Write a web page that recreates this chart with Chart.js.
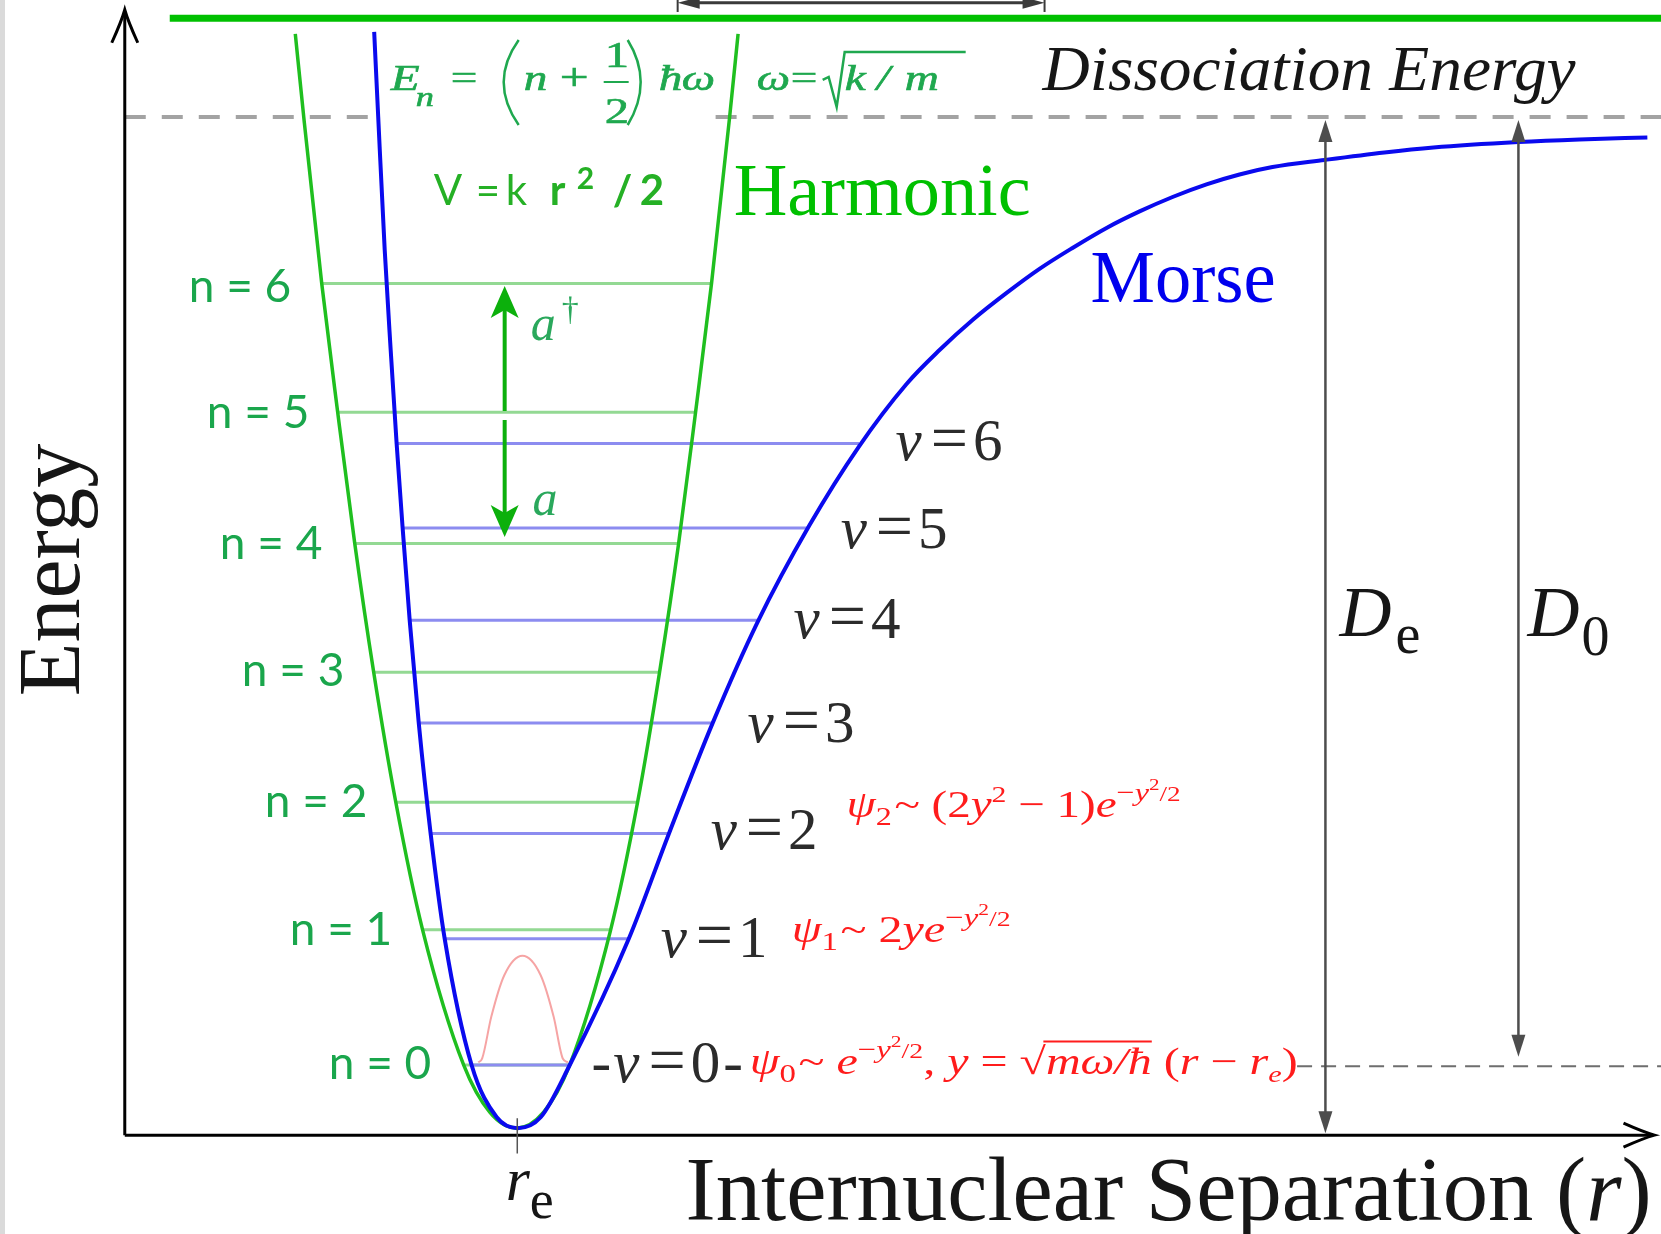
<!DOCTYPE html>
<html>
<head>
<meta charset="utf-8">
<title>Morse and harmonic potentials</title>
<script src="https://cdn.jsdelivr.net/npm/chart.js@4.4.1/dist/chart.umd.min.js"></script>
<style>
  html, body { margin: 0; padding: 0; background: #fff; }
  #wrap { width: 1661px; height: 1234px; }
</style>
</head>
<body>
<div id="wrap"><canvas id="canvas" width="1661" height="1234"></canvas></div>
<script>
// axis window (r and E in arbitrary units, origin at the drawn axes)
const rMin = -0.96, rMax = 11.82;
const eMin = -0.76, eMax = 8.73;
const rEq = 3.02;

// harmonic potential V = k r^2 / 2
const harmonicR = [1.312, 1.377, 1.515, 1.638, 1.769, 1.915, 2.085, 2.292, 2.608, 2.808, 3.015,
                   3.223, 3.423, 3.738, 3.946, 4.115, 4.262, 4.392, 4.515, 4.654, 4.719];
const harmonicE = [8.469, 7.831, 6.554, 5.562, 4.554, 3.562, 2.562, 1.577, 0.538, 0.177, 0.054,
                   0.177, 0.538, 1.577, 2.562, 3.562, 4.554, 5.562, 6.554, 7.831, 8.469];

// Morse potential
const morseR = [1.919, 1.950, 2.000, 2.046, 2.092, 2.138, 2.192, 2.262, 2.354, 2.462, 2.669, 2.862, 3.023,
                3.200, 3.423, 3.877, 4.185, 4.523, 4.869, 5.269, 5.646, 6.015, 6.269, 6.523, 6.785, 7.038,
                7.292, 7.554, 7.808, 8.062, 8.323, 8.577, 8.831, 9.231, 9.692, 10.069, 10.723, 11.192, 11.715];
const morseE = [8.485, 7.831, 6.808, 6.038, 5.315, 4.669, 3.962, 3.169, 2.315, 1.508, 0.538, 0.138, 0.054,
                0.138, 0.538, 1.508, 2.315, 3.169, 3.946, 4.692, 5.292, 5.777, 6.038, 6.269, 6.477, 6.662,
                6.823, 6.977, 7.104, 7.215, 7.312, 7.388, 7.445, 7.500, 7.558, 7.596, 7.638, 7.658, 7.673];

// ground state wavefunction sketch (pink)
const psi0R = [2.72, 2.75, 2.82, 2.92, 3.06, 3.20, 3.30, 3.37, 3.41];
const psi0E = [0.56, 0.59, 0.91, 1.23, 1.38, 1.23, 0.91, 0.59, 0.56];

// harmonic levels n = 0..6 and where they meet the parabola
const nLevels = [0.54, 1.58, 2.56, 3.56, 4.55, 5.56, 6.55];
const nLeft = [2.61, 2.29, 2.09, 1.92, 1.77, 1.64, 1.52];
const nRight = [3.42, 3.74, 3.95, 4.12, 4.26, 4.39, 4.52];

// Morse levels v = 0..6
const vLevels = [0.54, 1.51, 2.32, 3.17, 3.96, 4.67, 5.32];
const vLeft = [2.68, 2.47, 2.35, 2.25, 2.20, 2.14, 2.09];
const vRight = [3.42, 3.88, 4.18, 4.52, 4.87, 5.26, 5.65];

const dissociationE = 7.83;
const zeroPointE = 0.53;
const topLineE = 8.59;

const serif = '"Liberation Serif", "Times New Roman", serif';
const sans = 'Lato, "Open Sans", sans-serif';

const zip = (xs, ys) => xs.map((x, i) => ({ x: x, y: ys[i] }));

var datasets = [];
function addLine(points, color, width, extra) {
    datasets.push(Object.assign({
        data: points,
        showLine: true,
        borderColor: color,
        borderWidth: width,
        pointRadius: 0,
        fill: false,
        tension: 0,
        order: -datasets.length
    }, extra || {}));
}

// bottom first
addLine([{ x: 0, y: dissociationE }, { x: 1.985, y: dissociationE }], '#a3a3a3', 4, { borderDash: [21, 16] });
addLine([{ x: 4.546, y: dissociationE }, { x: rMax, y: dissociationE }], '#a3a3a3', 4, { borderDash: [21, 16] });
addLine([{ x: 9.02, y: zeroPointE }, { x: rMax, y: zeroPointE }], '#6e6e6e', 2, { borderDash: [15, 9] });
nLevels.forEach((e, i) => addLine([{ x: nLeft[i], y: e }, { x: nRight[i], y: e }], '#93d993', 3));
vLevels.forEach((e, i) => addLine([{ x: vLeft[i], y: e }, { x: vRight[i], y: e }], '#8c8cf0', 3));
addLine(zip(psi0R, psi0E), '#f6a4a4', 2, { cubicInterpolationMode: 'monotone' });
addLine(zip(harmonicR, harmonicE), '#1fbf1f', 3.5, { cubicInterpolationMode: 'monotone' });
addLine(zip(morseR, morseE), '#0a0aee', 4, { cubicInterpolationMode: 'monotone' });
addLine([{ x: 0.346, y: topLineE }, { x: rMax, y: topLineE }], '#00c000', 7);
addLine([{ x: 0, y: 0 }, { x: 11.74, y: 0 }], '#000', 3);
addLine([{ x: 0, y: 0 }, { x: 0, y: 8.62 }], '#000', 3);
addLine([{ x: rEq, y: 0.13 }, { x: rEq, y: -0.14 }], '#555', 1.5);

function fontOf(size, italic, bold, family) {
    return (italic ? 'italic ' : '') + (bold ? 'bold ' : '') + size + 'px ' + family;
}

// run of text pieces placed one after another
function drawRuns(c, runs, x, y, o) {
    c.save();
    var parts = runs.map(function (r) {
        var f = fontOf(r.size || o.size, r.it !== undefined ? r.it : o.it, r.b, o.family);
        c.font = f;
        return { r: r, f: f, w: c.measureText(r.t).width };
    });
    var total = parts.reduce(function (s, p) { return s + p.w + (p.r.dx || 0); }, 0);
    var k = o.width ? o.width / total : (o.sx || 1);
    c.translate(x, y);
    if (o.rot) c.rotate(o.rot);
    c.scale(k, 1);
    c.fillStyle = o.color;
    c.strokeStyle = o.color;
    c.textBaseline = 'alphabetic';
    var cx = o.center ? -total / 2 : 0;
    parts.forEach(function (p) {
        cx += p.r.dx || 0;
        c.font = p.f;
        c.fillText(p.r.t, cx, p.r.dy || 0);
        if (p.r.over) {
            var s = p.r.size || o.size;
            c.lineWidth = 2;
            c.beginPath();
            c.moveTo(cx - 2, -s * 0.86);
            c.lineTo(cx + p.w, -s * 0.86);
            c.stroke();
        }
        cx += p.w;
    });
    c.restore();
}

// pieces placed at fixed offsets from an anchor
function drawPieces(c, pieces, x, y, o) {
    c.save();
    c.fillStyle = o.color;
    c.strokeStyle = o.color;
    c.lineWidth = o.bold || 0;
    c.textBaseline = 'alphabetic';
    pieces.forEach(function (p) {
        c.save();
        c.translate(x + p.dx, y + (p.dy || 0));
        c.scale(o.sx || 1, 1);
        c.font = fontOf(p.size || o.size, p.it, p.b, o.family);
        c.fillText(p.t, 0, 0);
        if (o.bold) c.strokeText(p.t, 0, 0);
        c.restore();
    });
    c.restore();
}

function head(c, x, y, ang, len, half, notch) {
    c.save();
    c.translate(x, y);
    c.rotate(ang);
    c.beginPath();
    c.moveTo(0, 0);
    c.lineTo(-len, -half);
    c.lineTo(-len * (1 - notch), 0);
    c.lineTo(-len, half);
    c.closePath();
    c.fill();
    c.restore();
}

function barb(c, x, y, ang, len, half) {
    c.save();
    c.translate(x, y);
    c.rotate(ang);
    c.beginPath();
    c.moveTo(-len, -half);
    c.quadraticCurveTo(-len * 0.35, -half * 0.25, 0, 0);
    c.quadraticCurveTo(-len * 0.35, half * 0.25, -len, half);
    c.stroke();
    c.restore();
}

function arrow(c, x1, y1, x2, y2, o) {
    var ang = Math.atan2(y2 - y1, x2 - x1);
    c.save();
    c.strokeStyle = o.color;
    c.fillStyle = o.color;
    c.lineWidth = o.width;
    var s = o.both ? o.len * 0.5 : 0;
    c.beginPath();
    c.moveTo(x1 + Math.cos(ang) * s, y1 + Math.sin(ang) * s);
    c.lineTo(x2 - Math.cos(ang) * o.len * 0.5, y2 - Math.sin(ang) * o.len * 0.5);
    c.stroke();
    head(c, x2, y2, ang, o.len, o.half, o.notch || 0);
    if (o.both) head(c, x1, y1, ang + Math.PI, o.len, o.half, o.notch || 0);
    c.restore();
}

var art = {
    id: 'art',
    beforeDraw: function (chart) {
        var c = chart.ctx;
        c.save();
        c.fillStyle = '#fff';
        c.fillRect(0, 0, chart.width, chart.height);
        c.fillStyle = '#dadada';
        c.fillRect(0, 0, 5, chart.height);
        c.restore();
    },
    afterDatasetsDraw: function (chart) {
        var c = chart.ctx;
        var X = function (v) { return chart.scales.x.getPixelForValue(v); };
        var Y = function (v) { return chart.scales.y.getPixelForValue(v); };

        // axis arrow tips
        c.save();
        c.strokeStyle = '#000';
        c.lineWidth = 3;
        barb(c, X(0), Y(8.655), -Math.PI / 2, 33, 13);
        barb(c, X(11.77), Y(0), 0, 31, 12);
        c.restore();

        // creation / annihilation arrows
        var g = { color: '#0cb00c', width: 4, len: 32, half: 14, notch: 0.25 };
        arrow(c, X(2.923), Y(5.569), X(2.923), Y(6.531), g);
        arrow(c, X(2.923), Y(5.5), X(2.923), Y(4.6), g);

        // D_e and D_0
        var d = { color: '#4d4d4d', width: 2.5, len: 22, half: 7, both: true };
        arrow(c, X(9.238), Y(0.015), X(9.238), Y(7.808), d);
        arrow(c, X(10.723), Y(0.604), X(10.723), Y(7.808), d);

        // arrow cut by the top edge
        arrow(c, X(4.254), Y(8.708), X(7.077), Y(8.708), { color: '#3a3a3a', width: 3, len: 22, half: 6, both: true });
        c.save();
        c.strokeStyle = '#3a3a3a';
        c.lineWidth = 2;
        [4.254, 7.077].forEach(function (r) {
            c.beginPath();
            c.moveTo(X(r), Y(8.731));
            c.lineTo(X(r), Y(8.638));
            c.stroke();
        });
        c.restore();

        var dark = '#161616';
        drawRuns(c, [{ t: 'Energy' }], X(-0.354), Y(4.346), { size: 88, family: serif, color: dark, rot: -Math.PI / 2, center: true });
        drawRuns(c, [{ t: 'Internuclear Separation (' }, { t: 'r', it: true }, { t: ')' }], X(4.315), Y(-0.654), { size: 90, family: serif, color: dark, width: 966 });
        drawRuns(c, [{ t: 'r', it: true }, { t: 'e', size: 54, dy: 18 }], X(2.931), Y(-0.5), { size: 62, family: serif, color: dark });
        drawRuns(c, [{ t: 'Harmonic' }], X(4.685), Y(7.077), { size: 75, family: serif, color: '#00c000', width: 297 });
        drawRuns(c, [{ t: 'Morse' }], X(7.431), Y(6.408), { size: 73, family: serif, color: '#0000ee', width: 185 });
        drawRuns(c, [{ t: 'Dissociation Energy' }], X(7.062), Y(8.038), { size: 64, it: true, family: serif, color: dark, width: 533 });
        drawRuns(c, [{ t: 'D', it: true }, { t: 'e', size: 56, dy: 17, dx: 4 }], X(9.346), Y(3.838), { size: 72, family: serif, color: dark });
        drawRuns(c, [{ t: 'D', it: true }, { t: '0', size: 56, dy: 19, dx: 2 }], X(10.792), Y(3.838), { size: 72, family: serif, color: dark });

        // Morse level labels
        var vAt = [[3.592, 0.408], [4.123, 1.369], [4.508, 2.2], [4.792, 3.023], [5.146, 3.823], [5.508, 4.515], [5.931, 5.192]];
        vAt.forEach(function (p, i) {
            var runs = [{ t: 'v', it: true }, { t: '=', dx: 9, size: 66 }, { t: String(i), dx: 5 }];
            if (i === 0) runs = [{ t: '-' }, { t: 'v', it: true, dx: 2 }, { t: '=', dx: 9, size: 66 }, { t: '0', dx: 5 }, { t: '-', dx: 3 }];
            drawRuns(c, runs, X(p[0]), Y(p[1]), { size: 59, family: serif, color: '#2b2b2b' });
        });

        // harmonic level labels
        var nAt = [[1.569, 0.431], [1.269, 1.462], [1.077, 2.446], [0.9, 3.454], [0.731, 4.431], [0.631, 5.438], [0.492, 6.408]];
        nAt.forEach(function (p, i) {
            drawRuns(c, [{ t: 'n = ' + i }], X(p[0]), Y(p[1]), { size: 46, family: sans, color: '#1aa64c' });
        });

        // V = k r^2 / 2
        drawPieces(c, [
            { t: 'V', dx: 0 }, { t: '=', dx: 42 }, { t: 'k', dx: 72 }, { t: 'r', dx: 116, b: true },
            { t: '2', dx: 143, dy: -16, size: 30, b: true }, { t: '/', dx: 179, b: true }, { t: '2', dx: 206, b: true }
        ], X(2.377), Y(7.154), { size: 42, family: sans, color: '#25b025' });

        // E_n = (n + 1/2) hbar omega
        var eq = '#1fa84f';
        var ex = X(2.046), ey = Y(8.038);
        drawPieces(c, [
            { t: 'E', dx: 0, it: true }, { t: 'n', dx: 25, dy: 16, it: true, size: 27 }, { t: '=', dx: 60 },
            { t: 'n', dx: 133, it: true }, { t: '+', dx: 169, size: 38 },
            { t: '1', dx: 214, dy: -23, size: 36 }, { t: '2', dx: 214, dy: 33, size: 36 },
            { t: 'ħ', dx: 268, it: true }, { t: 'ω', dx: 291, it: true }
        ], ex, ey, { size: 35, family: serif, color: eq, sx: 1.35, bold: 0.6 });
        c.save();
        c.strokeStyle = eq;
        c.lineWidth = 2.5;
        c.beginPath();
        c.moveTo(ex + 128, ey - 50); c.quadraticCurveTo(ex + 98, ey - 8, ex + 128, ey + 35);
        c.moveTo(ex + 237, ey - 50); c.quadraticCurveTo(ex + 263, ey - 8, ex + 237, ey + 35);
        c.stroke();
        c.lineWidth = 2;
        c.beginPath();
        c.moveTo(ex + 213, ey - 8); c.lineTo(ex + 238, ey - 8);
        c.stroke();
        c.restore();

        // omega = sqrt(k/m)
        var wx = X(4.862), wy = Y(8.038);
        drawPieces(c, [
            { t: 'ω', dx: 0, it: true }, { t: '=', dx: 34 }, { t: 'k', dx: 88, it: true },
            { t: '/', dx: 120, it: true }, { t: 'm', dx: 148, it: true }
        ], wx, wy, { size: 35, family: serif, color: eq, sx: 1.35, bold: 0.6 });
        c.save();
        c.strokeStyle = eq;
        c.lineWidth = 2.5;
        c.beginPath();
        c.moveTo(wx + 66, wy - 10); c.lineTo(wx + 72, wy - 13); c.lineTo(wx + 80, wy + 17);
        c.lineTo(wx + 88, wy - 38); c.lineTo(wx + 209, wy - 38);
        c.stroke();
        c.restore();

        // ladder operators
        drawRuns(c, [{ t: 'a', it: true }, { t: '†', size: 34, dy: -20, dx: 6 }], X(3.123), Y(6.115), { size: 50, family: serif, color: '#2aa85c' });
        drawRuns(c, [{ t: 'a', it: true }], X(3.138), Y(4.769), { size: 50, family: serif, color: '#2aa85c' });

        // wavefunctions
        var red = { size: 38, family: serif, color: '#ff1c1c' };
        var expo = [{ t: 'e', it: true }, { t: '−', size: 26, dy: -16 }, { t: 'y', it: true, size: 26, dy: -16 }, { t: '2', size: 17, dy: -27 }, { t: '/2', size: 22, dy: -16 }];
        drawRuns(c, [{ t: 'ψ', it: true }, { t: '2', size: 26, dy: 8 }, { t: '~ (2', dx: 2 }, { t: 'y', it: true }, { t: '2', size: 24, dy: -15 }, { t: ' − 1)' }].concat(expo),
            X(5.554), Y(2.446), Object.assign({ width: 334 }, red));
        drawRuns(c, [{ t: 'ψ', it: true }, { t: '1', size: 26, dy: 8 }, { t: '~ 2', dx: 2 }, { t: 'y', it: true }].concat(expo),
            X(5.131), Y(1.485), Object.assign({ width: 219 }, red));
        drawRuns(c, [{ t: 'ψ', it: true }, { t: '0', size: 26, dy: 8 }, { t: '~ ', dx: 2 }].concat(expo).concat([
            { t: ', ' }, { t: 'y', it: true }, { t: ' = ' }, { t: '√' }, { t: 'mω/ħ', it: true, over: true },
            { t: ' (' }, { t: 'r', it: true }, { t: ' − ' }, { t: 'r', it: true }, { t: 'e', it: true, size: 24, dy: 8 }, { t: ')' }
        ]), X(4.808), Y(0.469), Object.assign({ width: 548 }, red));
    }
};

var ctx = document.getElementById('canvas');
var myChart = new Chart(ctx, {
    type: 'scatter',
    data: { datasets: datasets },
    options: {
        responsive: false,
        animation: false,
        devicePixelRatio: 1,
        layout: { padding: 0 },
        plugins: {
            legend: { display: false },
            tooltip: { enabled: false }
        },
        scales: {
            x: { type: 'linear', min: rMin, max: rMax, display: false },
            y: { type: 'linear', min: eMin, max: eMax, display: false }
        }
    },
    plugins: [art]
});
</script>
</body>
</html>
